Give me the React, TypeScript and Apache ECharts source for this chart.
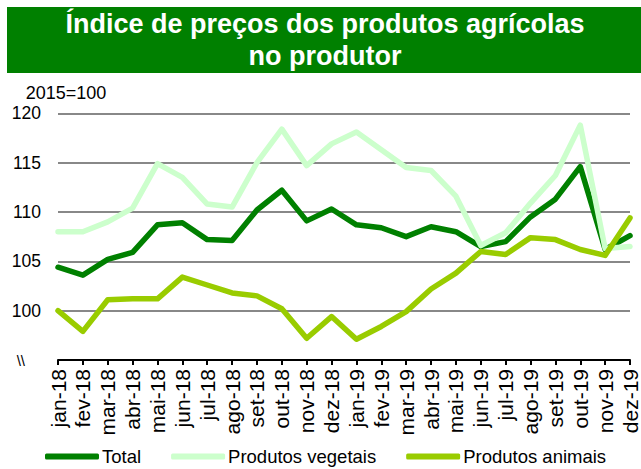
import React, { useEffect, useRef } from "react";
import * as echarts from "echarts";

const categories = [
  "jan-18", "fev-18", "mar-18", "abr-18", "mai-18", "jun-18", "jul-18", "ago-18",
  "set-18", "out-18", "nov-18", "dez-18", "jan-19", "fev-19", "mar-19", "abr-19",
  "mai-19", "jun-19", "jul-19", "ago-19", "set-19", "out-19", "nov-19", "dez-19",
];
const total = [104.4, 103.6, 105.2, 105.9, 108.7, 108.9, 107.2, 107.1, 110.2, 112.2, 109.1, 110.3,
  108.7, 108.4, 107.5, 108.5, 108.0, 106.5, 107.0, 109.5, 111.3, 114.6, 106.2, 107.6];
const vegetais = [108.0, 108.0, 109.0, 110.4, 114.9, 113.5, 110.8, 110.5, 115.0, 118.4, 114.7, 116.9,
  118.1, 116.3, 114.5, 114.2, 111.6, 106.6, 107.9, 110.9, 113.7, 118.8, 106.3, 106.5];
const animais = [100.0, 97.9, 101.1, 101.2, 101.2, 103.4, 102.6, 101.8, 101.5, 100.2, 97.2, 99.4,
  97.1, 98.4, 99.9, 102.2, 103.8, 106.0, 105.7, 107.4, 107.2, 106.2, 105.6, 109.4];
const seriesNames = ["Total", "Produtos vegetais", "Produtos animais"];
const titleLines = ["Índice de preços dos produtos agrícolas", "no produtor"];
const unitLabel = "2015=100";

export default function App() {
  const ref = useRef<HTMLDivElement>(null);
  useEffect(() => {
    if (!ref.current) return;
    const chart = echarts.init(ref.current, null, { renderer: "svg" });
    const font = "'Liberation Sans', Arial, sans-serif";
    const colors = ["#008000", "#CCFFCC", "#99CC00"];
    const data = [total, vegetais, animais];
    chart.setOption({
      animation: false,
      textStyle: { fontFamily: font },
      grid: { left: 58, right: 11, top: 113.3, bottom: 109 },
      graphic: [
        { type: "rect", shape: { x: 7, y: 7, width: 634, height: 66 }, style: { fill: "#008000" }, silent: true },
        { type: "text", x: 325, y: 24, style: { text: titleLines[0], fill: "#fff", font: `bold 27px ${font}`, textAlign: "center", textVerticalAlign: "middle" } },
        { type: "text", x: 325, y: 56, style: { text: titleLines[1], fill: "#fff", font: `bold 27px ${font}`, textAlign: "center", textVerticalAlign: "middle" } },
        { type: "text", x: 66, y: 93, style: { text: unitLabel, fill: "#000", font: `18px ${font}`, textAlign: "center", textVerticalAlign: "middle" } },
      ],
      legend: {
        left: 45,
        top: 447,
        padding: 0,
        icon: "roundRect",
        itemWidth: 54,
        itemHeight: 6,
        itemGap: 30,
        textStyle: { fontSize: 18.5, color: "#000", fontFamily: font, padding: [0, 0, 0, -2] },
        data: seriesNames,
      },
      xAxis: {
        type: "category",
        data: categories,
        boundaryGap: false,
        axisLine: { lineStyle: { color: "#000", width: 2 } },
        axisTick: { show: true, length: 5, lineStyle: { color: "#000", width: 2 } },
        axisLabel: { rotate: 90, fontSize: 21, color: "#000", margin: 9, interval: 0, fontFamily: font },
        z: 10,
      },
      yAxis: {
        type: "value",
        min: 95,
        max: 120,
        interval: 5,
        axisLine: { show: false },
        axisTick: { show: false },
        splitLine: { lineStyle: { color: "#888888", width: 2 } },
        axisLabel: {
          fontSize: 17.5,
          color: "#000",
          margin: 17,
          fontFamily: font,
          formatter: (v: number) => (v === 95 ? "{brk|\\\\}" : String(v)),
          rich: { brk: { fontSize: 15, color: "#000", padding: [0, 16, 0, 0], fontFamily: font } },
        },
      },
      series: seriesNames.map((name, i) => ({
        name,
        type: "line",
        data: data[i],
        symbol: "none",
        smooth: false,
        lineStyle: { color: colors[i], width: 5.5, cap: "round", join: "round" },
        itemStyle: { color: colors[i] },
      })),
    });
    return () => chart.dispose();
  }, []);
  return <div ref={ref} style={{ width: 641, height: 469, position: "absolute", left: 0, top: 0 }} />;
}
